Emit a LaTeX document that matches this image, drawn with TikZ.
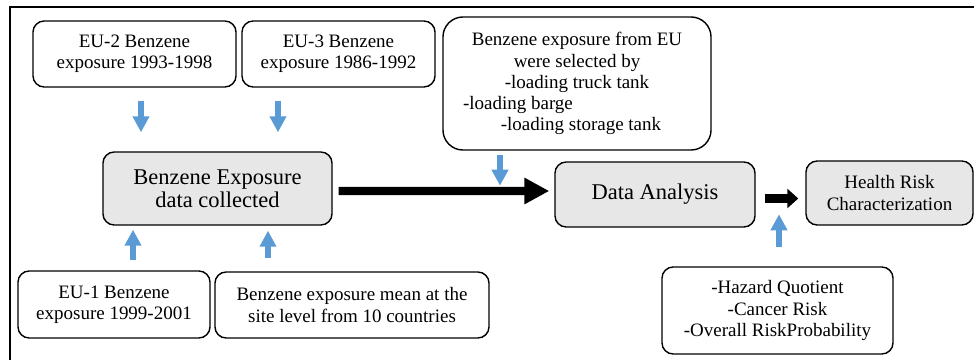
\documentclass[tikz,border=0pt]{standalone}
\usepackage{fontspec}
\setmainfont{Liberation Serif}
\usetikzlibrary{arrows.meta,calc}

\definecolor{arrblue}{RGB}{91,155,213}
\definecolor{boxgray}{RGB}{231,231,231}

\begin{document}
\begin{tikzpicture}[x=0.025cm, y=-0.025cm,
  box/.style={draw, line width=1pt, rounded corners=0.28cm, align=center, inner sep=0pt, font=\fontsize{13.5}{15}\selectfont},
  graybox/.style={box, fill=boxgray},
  bluearr/.style={draw=arrblue, line width=0.15cm, -{Triangle[width=0.4cm,length=0.4cm]}},
  bigarr/.style={line width=0.2cm, -{Triangle[width=0.625cm,length=0.625cm]}},
  smallarr/.style={line width=0.225cm, -{Triangle[width=0.475cm,length=0.275cm]}}]

\useasboundingbox (0,0) rectangle (974,360);

% frame, only top and left edge show
\draw[line width=1.4pt] (10,360) -- (10,7) -- (974,7);

\node[box, minimum width=5.075cm, minimum height=1.65cm] (eu2) at (134.5,54) {EU-2 Benzene\\exposure 1993-1998};
\node[box, minimum width=4.825cm, minimum height=1.65cm] (eu3) at (338.5,54) {EU-3 Benzene\\exposure 1986-1992};
\node[box, rounded corners=0.5cm, minimum width=6.7cm, minimum height=3.325cm] (sel) at (577,83.5)
  {Benzene exposure from EU\\were selected by\\-loading truck tank\\-loading barge\rule{2.95cm}{0pt}\\\rule{0.2cm}{0pt}-loading storage tank};

\node[graybox, font=\fontsize{16}{16.5}\selectfont, minimum width=5.725cm, minimum height=1.825cm] (collected) at (217.5,188.5) {Benzene Exposure\\data collected};
\node[graybox, font=\fontsize{16}{16.5}\selectfont, minimum width=5cm, minimum height=1.625cm] (data) at (655,194.5) {Data Analysis};
\node[graybox, minimum width=4.175cm, minimum height=1.6cm] (health) at (889.5,193) {Health Risk\\Characterization};

\node[box, minimum width=4.8cm, minimum height=1.675cm] (eu1) at (114,304.5) {EU-1 Benzene\\exposure 1999-2001};
\node[box, minimum width=6.85cm, minimum height=1.65cm] (mean) at (352,305) {Benzene exposure mean at the\\site level from 10 countries};
\node[box, minimum width=5.775cm, minimum height=2.175cm] (haz) at (777.5,310.5) {-Hazard Quotient\\-Cancer Risk\\-Overall RiskProbability};

% blue arrows
\draw[bluearr] ($(eu2.south)+(6.5,13)$) -- ($(eu2.south |- collected.north)+(6.5,-19)$);
\draw[bluearr] ($(eu3.south)+(-60.5,13)$) -- ($(eu3.south |- collected.north)+(-60.5,-19)$);
\draw[bluearr] ($(eu1.north)+(19,-10)$) -- ($(eu1.north |- collected.south)+(19,4)$);
\draw[bluearr] ($(mean.north)+(-84,-13)$) -- ($(mean.north |- collected.south)+(-84,5)$);
\draw[bluearr] ($(sel.south)+(-77,4)$) -- ++(0,31);
\draw[bluearr] ($(haz.north)+(1.5,-19)$) -- ++(0,-33);

% black arrows
\draw[bigarr] ($(collected.east)+(6,2.5)$) -- ($(data.west)+(-5,-3.5)$);
\draw[smallarr] ($(data.east)+(9,4)$) -- ($(health.west)+(-7,5.5)$);

\end{tikzpicture}
\end{document}
